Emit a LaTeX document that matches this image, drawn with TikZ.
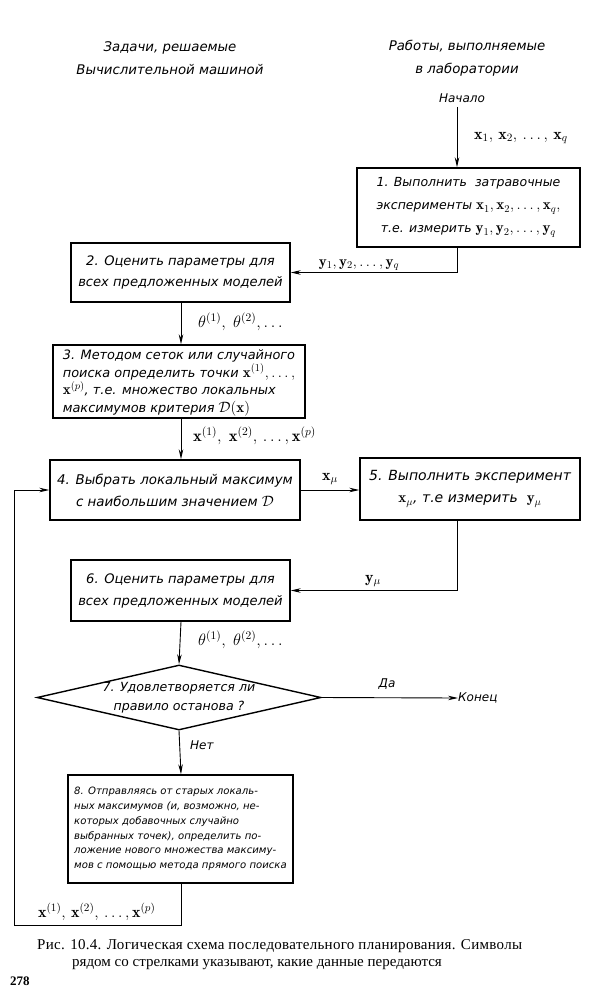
\RequirePackage{fix-cm}
\documentclass[tikz,border=0pt]{standalone}
\usepackage{fontspec}
\usetikzlibrary{arrows.meta,shapes.geometric}
\newfontfamily\hand{DejaVu Sans}[ItalicFont={DejaVu Sans Oblique}]
\newfontfamily\capfont{Liberation Serif}
\newcommand{\hs}[2]{\fontsize{#1}{#2}\selectfont\hand\itshape}
\newcommand{\ms}[1]{\fontsize{#1}{#1}\selectfont}
\newcommand{\mth}[1]{{\fontsize{15}{0}\selectfont$#1$}}
\tikzset{
  box/.style={draw, line width=1.4pt, inner sep=0pt},
  arr/.style={line width=0.9pt, -{Stealth[length=10pt,width=4.5pt]}},
  txt/.style={inner sep=0pt},
}
\begin{document}
\begin{tikzpicture}[x=1pt,y=-1pt]
\useasboundingbox (0,0) rectangle (611,1000);
% headers
\node[txt, align=center, font={\hs{13.3}{23}}] (hl) at (170,58) {Задачи, решаемые\\ Вычислительной машиной};
\node[txt, align=center, font={\hs{13.3}{23}}] (hr) at (467,58) {Работы, выполняемые\\ в лаборатории};
\node[txt, font={\hs{12}{12}}] (start) at (462,98) {Начало};
\coordinate (s) at (457,107);
\coordinate (c) at (181,0);
% boxes
\node[box, minimum width=223pt, minimum height=79pt] (b1) at (468.5,207.5) {};
\node[txt, align=center, font={\hs{12.5}{23}}] (t1) at (b1) {1. Выполнить\ \ затравочные\\ эксперименты \mth{\mathbf{x}_1,\mathbf{x}_2,\dots,\mathbf{x}_q,}\\ т.е. измерить \mth{\mathbf{y}_1,\mathbf{y}_2,\dots,\mathbf{y}_q}};
\node[box, minimum width=219pt, minimum height=59pt] (b2) at (180.5,272.5) {};
\node[txt, align=center, font={\hs{13.1}{21}}] (t2) at (b2) {2. Оценить параметры для\\ всех предложенных моделей};
\node[box, minimum width=252pt, minimum height=73pt] (b3) at (179,381.5) {};
\node[txt, align=left, font={\hs{12.9}{17.7}}] (t3) at (179,383) {3. Методом сеток или случайного\\ поиска определить точки \mth{\mathbf{x}^{(1)},\dots,}\\ \mth{\mathbf{x}^{(p)}}, т.е. множество локальных\\ максимумов критерия \mth{\mathcal{D}(\mathbf{x})}};
\node[box, minimum width=250pt, minimum height=60pt] (b4) at (175,490) {};
\node[txt, align=center, font={\hs{13.4}{22}}] (t4) at (b4) {4. Выбрать локальный максимум\\ с наибольшим значением \mth{\mathcal{D}}};
\node[box, minimum width=220pt, minimum height=62pt] (b5) at (470,489) {};
\node[txt, align=center, font={\hs{14}{22}}] (t5) at (b5) {5. Выполнить эксперимент\\ \mth{\mathbf{x}_\mu}, т.е измерить\ \ \mth{\mathbf{y}_\mu}};
\node[box, minimum width=219pt, minimum height=61pt] (b6) at (180.5,590.5) {};
\node[txt, align=center, font={\hs{13.1}{22}}] (t6) at (b6) {6. Оценить параметры для\\ всех предложенных моделей};
\node[box, diamond, minimum width=284pt, minimum height=65pt] (d) at (179,697.5) {};
\node[txt, align=center, font={\hs{12.6}{19}}] (t7) at (179,697.5) {7. Удовлетворяется ли\\ правило останова ?};
\node[box, minimum width=225pt, minimum height=108pt] (b8) at (180.5,829) {};
\node[txt, align=left, font={\hs{10.1}{14.8}}] (t8) at (b8) {8. Отправляясь от старых локаль-\\ ных максимумов (и, возможно, не-\\ которых добавочных случайно\\ выбранных точек), определить по-\\ ложение нового множества максиму-\\ мов с помощью метода прямого поиска};
\node[txt, anchor=west, font={\hs{12}{12}}] (konec) at (458,698) {Конец};
\coordinate (lp) at (14,925);
% connectors
\draw[arr] (s) -- (s |- b1.north);
\draw[arr] (s |- b1.south) |- (b2.east);
\draw[arr] (c |- b2.south) -- (c |- b3.north);
\draw[arr] (c |- b3.south) -- (c |- b4.north);
\draw[arr] (b4.east) -- (b4.east -| b5.west);
\draw[arr] (s |- b5.south) |- (b6.east);
\draw[arr] (c |- b6.south) -- (d.north);
\draw[arr] (d.east) -- (konec.west);
\draw[arr] (d.south) -- (c |- b8.north);
\draw[arr] (c |- b8.south) |- (lp) |- (b4.west);
% labels
\node[txt, anchor=west, font={\ms{16}}] (l1) at (474,138) {$\mathbf{x}_1,\,\mathbf{x}_2,\,\dots,\,\mathbf{x}_q$};
\node[txt, font={\ms{15}}] (l2) at (359,265) {$\mathbf{y}_1,\mathbf{y}_2,\dots,\mathbf{y}_q$};
\node[txt, anchor=west, font={\ms{16.5}}] (l3) at (198,322) {$\theta^{(1)},\;\theta^{(2)},\dots$};
\node[txt, anchor=west, font={\ms{16.5}}] (l4) at (193,436) {$\mathbf{x}^{(1)},\;\mathbf{x}^{(2)},\,\dots,\mathbf{x}^{(p)}$};
\node[txt, font={\ms{16}}] (l5) at (330,479) {$\mathbf{x}_\mu$};
\node[txt, font={\ms{16}}] (l6) at (373,581) {$\mathbf{y}_\mu$};
\node[txt, anchor=west, font={\ms{16.5}}] (l7) at (198,640) {$\theta^{(1)},\;\theta^{(2)},\dots$};
\node[txt, font={\hs{12}{12}}] (l8) at (387,684) {Да};
\node[txt, anchor=west, font={\hs{12}{12}}] (l9) at (190,745) {Нет};
\node[txt, anchor=west, font={\ms{16}}] (l10) at (38,912) {$\mathbf{x}^{(1)},\,\mathbf{x}^{(2)},\,.\,.\,.\,,\mathbf{x}^{(p)}$};
% caption
\node[txt, anchor=base west, font={\capfont\fontsize{15}{15}\selectfont\addfontfeature{LetterSpace=2}}] (cap1) at (37,949) {Рис. 10.4. Логическая схема последовательного планирования. Символы};
\node[txt, anchor=base west, font={\capfont\fontsize{15}{15}\selectfont}] (cap2) at (72,966) {рядом со стрелками указывают, какие данные передаются};
\node[txt, anchor=base west, font={\capfont\bfseries\fontsize{13}{13}\selectfont}] (pg) at (10,985) {278};
\end{tikzpicture}
\end{document}
